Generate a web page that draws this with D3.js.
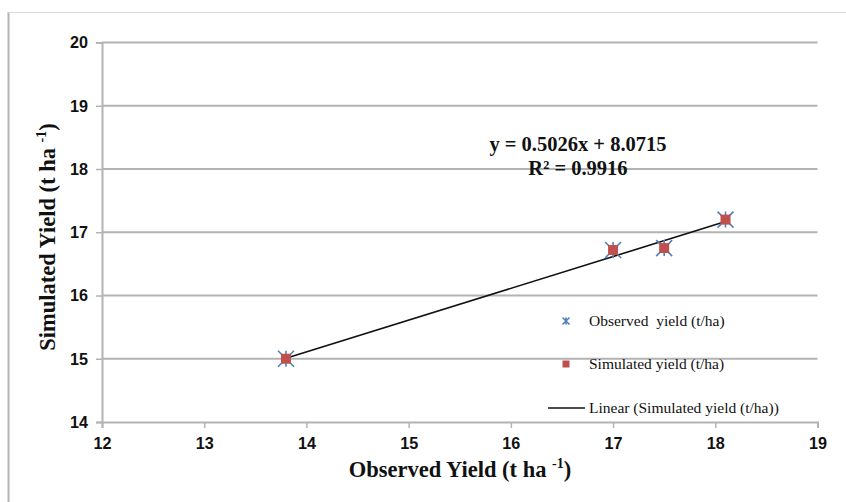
<!DOCTYPE html>
<html>
<head>
<meta charset="utf-8">
<script src="https://cdn.jsdelivr.net/npm/d3@7"></script>
<style>
  body { margin: 0; background: #fff; }
  svg { display: block; }
</style>
</head>
<body>
<div id="chart"></div>
<script>
// data
var observed = [13.8, 17.0, 17.5, 18.1];
var simulated = [15.0, 16.72, 16.75, 17.2];
var xTicks = [12, 13, 14, 15, 16, 17, 18, 19];
var yTicks = [14, 15, 16, 17, 18, 19, 20];
var slope = 0.5026, intercept = 8.0715;
var legendNames = ["Observed  yield (t/ha)", "Simulated yield (t/ha)", "Linear (Simulated yield (t/ha))"];

var width = 846, height = 502;
var svg = d3.select("#chart").append("svg")
  .attr("width", width).attr("height", height);

// outer chart border
svg.append("line").attr("x1", 8.5).attr("x2", 8.5).attr("y1", 12).attr("y2", height)
  .attr("stroke", "#b3b3b3").attr("stroke-width", 2);
svg.append("line").attr("x1", 8).attr("x2", width).attr("y1", 12.5).attr("y2", 12.5)
  .attr("stroke", "#d9d9d9").attr("stroke-width", 1);

var x = d3.scaleLinear().domain([12, 19]).range([102, 817.5]);
var y = d3.scaleLinear().domain([14, 20]).range([422, 42.5]);

// gridlines
svg.append("g").selectAll("line")
  .data(yTicks.filter(function(d) { return d > 14; }))
  .enter().append("line")
  .attr("x1", x(12)).attr("x2", x(19))
  .attr("y1", function(d) { return y(d); }).attr("y2", function(d) { return y(d); })
  .attr("stroke", "#b3b3b3").attr("stroke-width", 2);

var xAxis = svg.append("g")
  .attr("transform", "translate(0," + y(14) + ")")
  .call(d3.axisBottom(x).tickValues(xTicks).tickSize(6).tickPadding(6).tickFormat(d3.format("d")));
var yAxis = svg.append("g")
  .attr("transform", "translate(" + x(12) + ",0)")
  .call(d3.axisLeft(y).tickValues(yTicks).tickSize(6).tickPadding(8).tickFormat(d3.format("d")));

[xAxis, yAxis].forEach(function(a) {
  a.select(".domain").attr("stroke", "#b3b3b3").attr("stroke-width", 2);
  a.selectAll(".tick line").attr("stroke", "#b3b3b3").attr("stroke-width", 1.5);
  a.selectAll(".tick text")
    .attr("font-family", "'Liberation Sans Narrow', 'Liberation Sans', Arial, sans-serif")
    .attr("font-weight", "bold").attr("font-size", "17px").attr("fill", "#111")
    .attr("textLength", 18).attr("lengthAdjust", "spacingAndGlyphs");
});
xAxis.selectAll(".tick text").attr("dy", "0.9em");

// trendline
var xs = d3.extent(observed);
svg.append("line")
  .attr("x1", x(xs[0])).attr("y1", y(slope * xs[0] + intercept))
  .attr("x2", x(xs[1])).attr("y2", y(slope * xs[1] + intercept))
  .attr("stroke", "#111").attr("stroke-width", 1.6);

var blue = "#4f81bd", red = "#c0504d";

function star(g, cx, cy, r) {
  var d = "M" + (cx - r) + "," + (cy - r) + "L" + (cx + r) + "," + (cy + r) +
          "M" + (cx - r) + "," + (cy + r) + "L" + (cx + r) + "," + (cy - r) +
          "M" + cx + "," + (cy - r) + "L" + cx + "," + (cy + r);
  g.append("path").attr("d", d).attr("stroke", blue).attr("stroke-width", 1.6).attr("fill", "none");
}

var pts = observed.map(function(d, i) { return { x: d, y: simulated[i] }; });
var g = svg.append("g");
pts.forEach(function(p) { star(g, x(p.x), y(p.y), 8); });
g.selectAll("rect").data(pts).enter().append("rect")
  .attr("x", function(d) { return x(d.x) - 5; })
  .attr("y", function(d) { return y(d.y) - 5; })
  .attr("width", 10).attr("height", 10)
  .attr("fill", red);

// equation
var eq = svg.append("text").attr("text-anchor", "middle")
  .attr("font-family", "'Liberation Serif', 'Times New Roman', serif")
  .attr("font-weight", "bold").attr("font-size", "20.5px").attr("fill", "#111");
eq.append("tspan").attr("x", 578).attr("y", 151).text("y = " + slope + "x + " + intercept);
eq.append("tspan").attr("x", 578).attr("y", 175).text("R² = 0.9916");

// legend
var legY = [321, 364, 408];
var leg = svg.append("g");
star(leg, 566, legY[0], 3.5);
leg.append("rect").attr("x", 562.5).attr("y", legY[1] - 3.5).attr("width", 7).attr("height", 7).attr("fill", red);
leg.append("line").attr("x1", 548).attr("x2", 585).attr("y1", legY[2]).attr("y2", legY[2])
  .attr("stroke", "#111").attr("stroke-width", 1.6);
leg.selectAll("text").data(legendNames).enter().append("text")
  .attr("x", 589).attr("y", function(d, i) { return legY[i] + 5; })
  .attr("font-family", "'Liberation Serif', 'Times New Roman', serif")
  .attr("font-size", "15.5px").attr("fill", "#111")
  .attr("xml:space", "preserve")
  .text(function(d) { return d; });

// axis titles
var xt = svg.append("text").attr("x", 460).attr("y", 477).attr("text-anchor", "middle")
  .attr("font-family", "'Liberation Serif', 'Times New Roman', serif")
  .attr("font-weight", "bold").attr("font-size", "22.5px").attr("fill", "#111");
xt.append("tspan").text("Observed Yield (t ha ");
xt.append("tspan").attr("font-size", "14px").attr("dy", "-9").text("-1");
xt.append("tspan").attr("dy", "9").text(")");

var yt = svg.append("text").attr("transform", "translate(55,237) rotate(-90)").attr("text-anchor", "middle")
  .attr("font-family", "'Liberation Serif', 'Times New Roman', serif")
  .attr("font-weight", "bold").attr("font-size", "22.5px").attr("fill", "#111");
yt.append("tspan").text("Simulated Yield (t ha ");
yt.append("tspan").attr("font-size", "14px").attr("dy", "-9").text("-1");
yt.append("tspan").attr("dy", "9").text(")");
</script>
</body>
</html>
